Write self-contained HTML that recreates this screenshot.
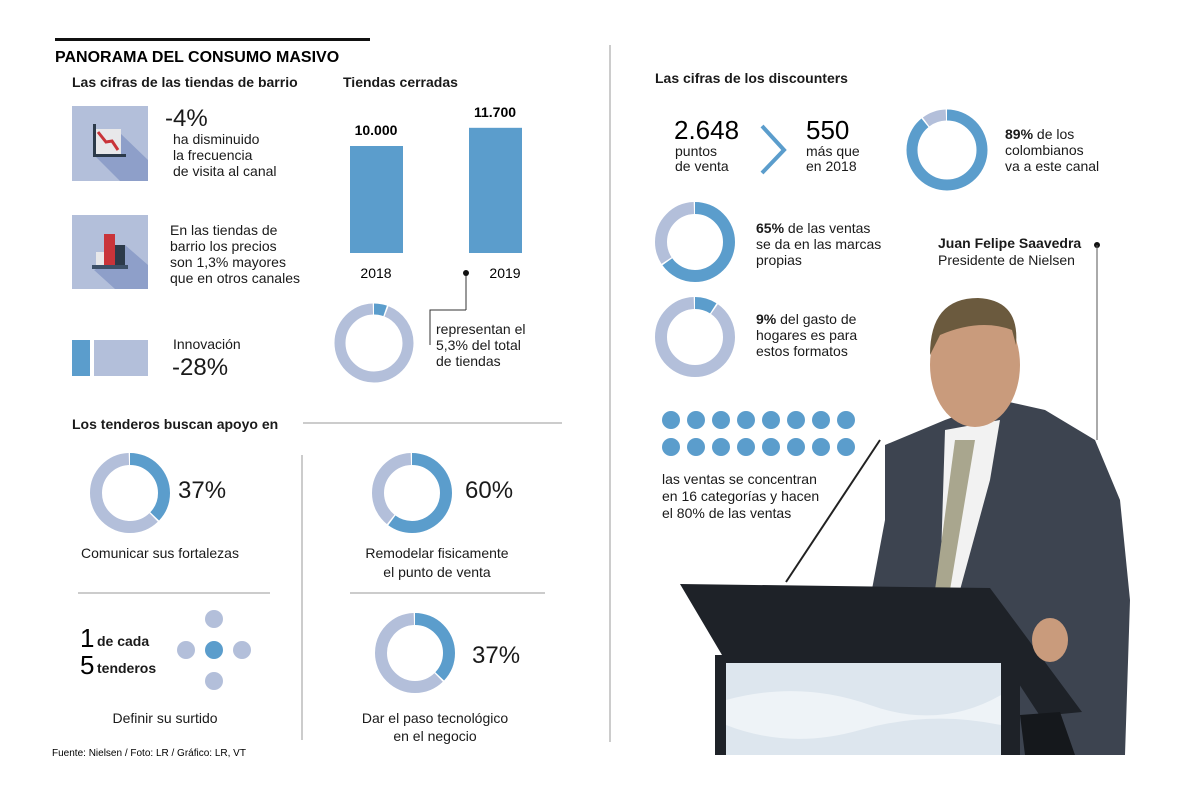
<!DOCTYPE html>
<html><head><meta charset="utf-8"><style>
body{margin:0;background:#fff;}
svg{display:block;font-family:"Liberation Sans",sans-serif;}
.h{font-weight:bold;font-size:14px;fill:#1a1a1a}
.t{font-size:14px;fill:#1a1a1a}
.big{font-size:24px;fill:#1a1a1a}
</style></head><body>
<svg id="c" width="1200" height="794" viewBox="0 0 1200 794">
<rect x="55" y="38" width="315" height="3" fill="#111"/>
<text x="55" y="62" style="font-weight:bold;font-size:16px">PANORAMA DEL CONSUMO MASIVO</text>
<text class="h" x="72" y="87">Las cifras de las tiendas de barrio</text>
<text class="h" x="343" y="87">Tiendas cerradas</text>

<g>
<rect x="72" y="106" width="76" height="75" fill="#b3bfda"/>
<polygon points="95,133 120,133 148,160 148,181 120,181 95,156" fill="#8e9fc9"/>
<rect x="96" y="129" width="25" height="25" fill="#e8e8ea"/>
<rect x="93" y="124" width="3" height="33" fill="#2c3a4a"/><rect x="93" y="154" width="33" height="3" fill="#2c3a4a"/>
<polyline points="98,132 106,142 112,141 118,150" stroke="#c9343a" stroke-width="3" fill="none"/>
</g>
<text class="big" x="165" y="126">-4%</text>
<text class="t" x="173" y="144"><tspan x="173">ha disminuido</tspan><tspan x="173" dy="16">la frecuencia</tspan><tspan x="173" dy="16">de visita al canal</tspan></text>

<g>
<rect x="72" y="215" width="76" height="74" fill="#b3bfda"/>
<polygon points="105,265 125,245 148,265 148,289 115,289 94,270" fill="#8e9fc9"/>
<rect x="96" y="252" width="10" height="14" fill="#e8e8ea"/>
<rect x="104" y="234" width="11" height="32" fill="#c9343a"/>
<rect x="115" y="245" width="10" height="21" fill="#2c3a4a"/>
<rect x="92" y="265" width="36" height="4" fill="#3d5068"/>
</g>
<text class="t" x="170" y="235"><tspan x="170">En las tiendas de</tspan><tspan x="170" dy="16">barrio los precios</tspan><tspan x="170" dy="16">son 1,3% mayores</tspan><tspan x="170" dy="16">que en otros canales</tspan></text>

<rect x="72" y="340" width="18" height="36" fill="#5b9dcc"/>
<rect x="94" y="340" width="54" height="36" fill="#b3bfda"/>
<text class="t" x="173" y="349">Innovación</text>
<text class="big" x="172" y="375">-28%</text>

<g id="bars"></g>

<line x1="466" y1="273" x2="466" y2="310" stroke="#333" stroke-width="1"/>
<polyline points="466,310 430,310 430,345" stroke="#333" fill="none" stroke-width="1"/>
<circle cx="466" cy="273" r="3" fill="#111"/>
<text class="t" x="436" y="334"><tspan x="436">representan el</tspan><tspan x="436" dy="16">5,3% del total</tspan><tspan x="436" dy="16">de tiendas</tspan></text>

<line x1="610" y1="45" x2="610" y2="742" stroke="#999"/>
<text class="h" x="72" y="429">Los tenderos buscan apoyo en</text>
<line x1="303" y1="423" x2="562" y2="423" stroke="#999"/>
<line x1="302" y1="455" x2="302" y2="740" stroke="#999"/>
<line x1="78" y1="593" x2="270" y2="593" stroke="#999"/>
<line x1="350" y1="593" x2="545" y2="593" stroke="#999"/>

<text class="big" x="178" y="498">37%</text>
<text class="t" x="160" y="558" text-anchor="middle">Comunicar sus fortalezas</text>
<text class="big" x="465" y="498">60%</text>
<text class="t" x="437" y="558" text-anchor="middle"><tspan x="437">Remodelar fisicamente</tspan><tspan x="437" dy="19">el punto de venta</tspan></text>
<text class="big" x="472" y="663">37%</text>
<text class="t" x="435" y="723" text-anchor="middle"><tspan x="435">Dar el paso tecnológico</tspan><tspan x="435" dy="18">en el negocio</tspan></text>

<text x="80" y="647" style="font-size:26px">1</text>
<text x="97" y="646" class="t" style="font-weight:bold">de cada</text>
<text x="80" y="674" style="font-size:26px">5</text>
<text x="97" y="673" class="t" style="font-weight:bold">tenderos</text>
<g>
<circle cx="214" cy="619" r="9" fill="#b3bfda"/><circle cx="186" cy="650" r="9" fill="#b3bfda"/>
<circle cx="242" cy="650" r="9" fill="#b3bfda"/><circle cx="214" cy="681" r="9" fill="#b3bfda"/>
<circle cx="214" cy="650" r="9" fill="#5b9dcc"/></g>
<text class="t" x="165" y="723" text-anchor="middle">Definir su surtido</text>
<text x="52" y="756" style="font-size:10px">Fuente: Nielsen / Foto: LR / Gráfico: LR, VT</text>

<text class="h" x="655" y="83">Las cifras de los discounters</text>
<text x="674" y="139" style="font-size:26px">2.648</text>
<text class="t" x="675" y="156"><tspan x="675">puntos</tspan><tspan x="675" dy="15">de venta</tspan></text>
<polyline points="762,126 784,150 762,173" stroke="#5b9dcc" stroke-width="4" fill="none"/>
<text x="806" y="139" style="font-size:26px">550</text>
<text class="t" x="806" y="156"><tspan x="806">más que</tspan><tspan x="806" dy="15">en 2018</tspan></text>
<text class="t" x="1005" y="139"><tspan x="1005"><tspan font-weight="bold">89%</tspan> de los</tspan><tspan x="1005" dy="16">colombianos</tspan><tspan x="1005" dy="16">va a este canal</tspan></text>
<text class="t" x="756" y="233"><tspan x="756"><tspan font-weight="bold">65%</tspan> de las ventas</tspan><tspan x="756" dy="16">se da en las marcas</tspan><tspan x="756" dy="16">propias</tspan></text>
<text class="t" x="756" y="324"><tspan x="756"><tspan font-weight="bold">9%</tspan> del gasto de</tspan><tspan x="756" dy="16">hogares es para</tspan><tspan x="756" dy="16">estos formatos</tspan></text>
<text class="t" x="938" y="248" font-weight="bold">Juan Felipe Saavedra</text>
<text class="t" x="938" y="265">Presidente de Nielsen</text>
<circle cx="1097" cy="245" r="3" fill="#111"/>
<line x1="1097" y1="245" x2="1097" y2="440" stroke="#555"/>
<g id="grid"></g>
<text class="t" x="662" y="484"><tspan x="662">las ventas se concentran</tspan><tspan x="662" dy="17">en 16 categorías y hacen</tspan><tspan x="662" dy="17">el 80% de las ventas</tspan></text>

<g>
<polygon points="885,445 945,420 1000,400 1045,410 1095,440 1120,500 1130,600 1125,755 875,755 870,600 885,520" fill="#3d4450"/>
<polygon points="945,430 1000,420 990,480 960,590 940,590" fill="#f2f2f2"/>
<polygon points="955,440 975,440 965,500 950,590 935,590" fill="#a9a68e"/>
<ellipse cx="975" cy="365" rx="45" ry="62" fill="#c99b7c"/>
<path d="M930 355 Q930 298 978 298 Q1020 300 1016 345 L1012 330 Q980 318 940 335 Z" fill="#6b5a3e"/>
<line x1="786" y1="582" x2="880" y2="440" stroke="#222" stroke-width="2"/>
<polygon points="680,584 990,588 1082,712 1040,716 1000,655 722,655" fill="#1e2228"/>
<rect x="715" y="655" width="305" height="100" fill="#1e2228"/>
<rect x="726" y="663" width="275" height="92" fill="#dde6ee"/>
<path d="M726 700 Q800 680 870 705 T1001 695 L1001 725 Q930 710 860 730 T726 725 Z" fill="#eef3f7"/>
<polygon points="1020,715 1060,712 1075,755 1025,755" fill="#15181c"/>
<ellipse cx="1050" cy="640" rx="18" ry="22" fill="#c99b7c"/>
</g>
</svg>
<script>
const years=["2018","2019"];
const closed=[10000,11700];
const closedLabels=["10.000","11.700"];
const shareClosed=[5.3];
const tenderoPcts=[37,60,37];
const discPcts=[89,65,9];
const gridRows=[8,8];
const NS="http://www.w3.org/2000/svg";
const svg=document.getElementById('c');
function mk(t,a,p){const e=document.createElementNS(NS,t);for(const k in a)e.setAttribute(k,a[k]);(p||svg).appendChild(e);return e;}
// bar chart
const bg=document.getElementById('bars');
const base=253, yScale=v=>base-v*107/10000;
const xPos=i=>350+i*119;
closed.forEach((v,i)=>{
 const r=mk('rect',{x:xPos(i),y:yScale(v),width:53,height:base-yScale(v),fill:'#5b9dcc'},bg);
 
 
 const l=mk('text',{x:xPos(i)+26,y:yScale(v)-11,'text-anchor':'middle',style:'font-weight:bold;font-size:14px'},bg);l.textContent=closedLabels[i];
 
 
 const a=mk('text',{x:xPos(i)+26+(i?10:0),y:278,'text-anchor':'middle',style:'font-size:14px'},bg);a.textContent=years[i];
 
 
});
function donut(cx,cy,pct,name,r,w){
 r=r||34;w=w||12;const C=2*Math.PI*r;const g=mk('g',{transform:`rotate(-90 ${cx} ${cy})`});
 
 
 const gap=1.5;const d=C*pct/100;
 mk('circle',{cx,cy,r,fill:'none',stroke:'#b3bfda','stroke-width':w,'stroke-dasharray':`${C-d-2*gap} ${C}`,'stroke-dashoffset':-(d+gap)},g);
 mk('circle',{cx,cy,r,fill:'none',stroke:'#5b9dcc','stroke-width':w,'stroke-dasharray':`${d} ${C}`},g);
}
donut(374,343,shareClosed[0],'donut-closed-share',34,11);
donut(130,493,tenderoPcts[0],'donut-fortalezas');
donut(412,493,tenderoPcts[1],'donut-remodelar');
donut(415,653,tenderoPcts[2],'donut-tecnologia');
donut(947,150,discPcts[0],'donut-colombianos',35,11);
donut(695,242,discPcts[1],'donut-marcas');
donut(695,337,discPcts[2],'donut-gasto');
const gg=document.getElementById('grid');
gridRows.forEach((n,row)=>{for(let i=0;i<n;i++){const c=mk('circle',{cx:671+i*25,cy:420+row*27,r:9,fill:'#5b9dcc'},gg);
 
 }});
</script>
</body></html>
